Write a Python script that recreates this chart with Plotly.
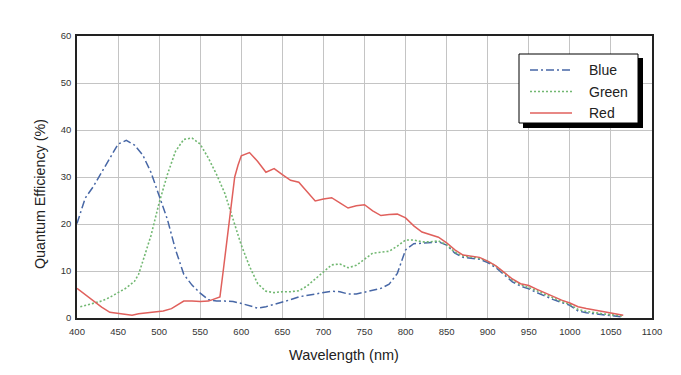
import plotly.graph_objects as go

# ---- data ----
blue_nm = [400, 410, 420, 430, 440, 450, 460, 470, 480, 490, 500, 510, 520, 530, 540, 550,
           560, 570, 580, 590, 600, 610, 620, 630, 640, 650, 660, 670, 680, 690, 700, 710,
           720, 730, 740, 750, 760, 770, 780, 790, 800, 810, 820, 830, 840, 850, 860, 870,
           880, 890, 900, 910, 920, 930, 940, 950, 960, 970, 980, 990, 1000, 1010, 1020,
           1030, 1040, 1050, 1060, 1065]
blue_qe = [20.1, 25.5, 28.0, 31.0, 34.3, 37.0, 37.8, 36.8, 34.7, 31.0, 26.0, 21.0, 14.5, 9.3,
           7.0, 5.3, 3.9, 3.6, 3.6, 3.5, 3.1, 2.6, 2.1, 2.4, 2.9, 3.3, 3.9, 4.5, 4.8, 5.1, 5.4,
           5.7, 5.6, 5.1, 5.1, 5.5, 5.9, 6.3, 7.2, 9.5, 14.5, 15.8, 15.9, 16.0, 16.2, 15.5, 13.8,
           12.9, 12.7, 12.5, 11.8, 10.7, 9.2, 7.7, 6.8, 6.2, 5.4, 4.6, 3.9, 3.3, 2.7, 1.5, 1.1,
           0.9, 0.7, 0.5, 0.3, 0.2]

green_nm = [404, 410, 420, 430, 440, 450, 460, 470, 475, 480, 490, 500, 510, 520, 530, 540,
            550, 560, 570, 580, 590, 600, 610, 620, 630, 640, 650, 660, 670, 680, 690, 700,
            710, 720, 730, 740, 750, 760, 770, 780, 790, 800, 810, 820, 830, 840, 850, 860,
            870, 880, 890, 900, 910, 920, 930, 940, 950, 960, 970, 980, 990, 1000, 1010, 1020,
            1030, 1040, 1050, 1060, 1065]
green_qe = [2.4, 2.7, 3.2, 3.6, 4.4, 5.4, 6.4, 7.8, 9.3, 12.0, 17.5, 24.5, 30.5, 35.5, 38.0,
            38.3, 37.0, 34.0, 30.5, 26.5, 21.0, 15.5, 11.0, 7.3, 5.7, 5.4, 5.6, 5.6, 5.8, 6.8,
            8.3, 9.7, 11.3, 11.5, 10.7, 11.2, 12.5, 13.8, 14.0, 14.2, 15.3, 16.6, 16.6, 16.2,
            16.2, 16.4, 15.6, 14.0, 13.2, 12.9, 12.7, 12.1, 11.0, 9.6, 8.1, 7.1, 6.5, 5.8, 5.0,
            4.2, 3.5, 2.9, 1.8, 1.4, 1.1, 0.9, 0.7, 0.5, 0.4]

red_nm = [400, 410, 420, 430, 440, 450, 460, 467, 475, 485, 495, 505, 515, 522, 530, 540,
          550, 560, 570, 574, 578, 583, 588, 592, 596, 600, 610, 620, 630, 640, 650, 660, 670,
          680, 690, 700, 710, 720, 730, 740, 750, 760, 770, 780, 790, 800, 810, 820, 830, 840,
          850, 860, 870, 880, 890, 900, 910, 920, 930, 940, 950, 960, 970, 980, 990, 1000,
          1010, 1020, 1030, 1040, 1050, 1060, 1065]
red_qe = [6.3, 4.9, 3.5, 2.3, 1.2, 1.0, 0.8, 0.6, 0.9, 1.1, 1.2, 1.5, 2.0, 2.7, 3.6, 3.6, 3.5,
          3.6, 4.2, 4.5, 10.0, 17.0, 25.0, 30.0, 32.5, 34.5, 35.2, 33.3, 31.0, 31.8, 30.5, 29.3,
          28.9, 26.8, 24.9, 25.3, 25.6, 24.5, 23.4, 23.9, 24.1, 22.8, 21.8, 22.0, 22.1, 21.3,
          19.6, 18.3, 17.7, 17.2, 16.0, 14.5, 13.4, 13.1, 12.9, 12.1, 11.1, 9.7, 8.3, 7.3, 6.9,
          6.1, 5.3, 4.5, 3.8, 3.2, 2.4, 2.0, 1.7, 1.4, 1.1, 0.8, 0.6]

series_names = ["Blue", "Green", "Red"]
x_ticks = list(range(400, 1101, 50))
y_ticks = list(range(0, 61, 10))
x_title = "Wavelength (nm)"
y_title = "Quantum Efficiency (%)"

BLUE = "#4767a6"
GREEN = "#72b872"
RED = "#e0605c"
BLUE_DASH = "8px,3px,2px,3px"
GREEN_DASH = "2px,2px"

fig = go.Figure()
fig.add_trace(go.Scatter(x=blue_nm, y=blue_qe, mode="lines", name=series_names[0],
                         line=dict(color=BLUE, width=1.5, dash=BLUE_DASH)))
fig.add_trace(go.Scatter(x=green_nm, y=green_qe, mode="lines", name=series_names[1],
                         line=dict(color=GREEN, width=1.6, dash=GREEN_DASH)))
fig.add_trace(go.Scatter(x=red_nm, y=red_qe, mode="lines", name=series_names[2],
                         line=dict(color=RED, width=1.5)))

# page body has an 8px margin; compensate so the plot lands where the reference has it
OFF = 8
W, H = 681 - OFF, 375 - OFF
ML, MR, MT, MB = 77 - OFF, 29, 36 - OFF, 57
pw, ph = W - ML - MR, H - MT - MB


def px(x):  # page pixel -> paper x
    return (x - OFF - ML) / pw


def py(y):  # page pixel -> paper y
    return (H - MB - (y - OFF)) / ph


shapes = []
# legend shadow and box
shapes.append(dict(type="rect", xref="paper", yref="paper", x0=px(523), x1=px(643),
                   y0=py(128), y1=py(58), fillcolor="black", line=dict(width=0), layer="above"))
shapes.append(dict(type="rect", xref="paper", yref="paper", x0=px(519), x1=px(638),
                   y0=py(123), y1=py(54), fillcolor="white", line=dict(color="black", width=1),
                   layer="above"))
annotations = []
legend_rows = [(70, BLUE, BLUE_DASH, 1.5), (91.5, GREEN, GREEN_DASH, 1.6), (113, RED, "solid", 1.5)]
for (yy, col, dsh, lw), nm in zip(legend_rows, series_names):
    shapes.append(dict(type="line", xref="paper", yref="paper", x0=px(530), x1=px(572),
                       y0=py(yy), y1=py(yy), line=dict(color=col, width=lw, dash=dsh),
                       layer="above"))
    annotations.append(dict(xref="paper", yref="paper", x=px(587), y=py(yy), text=nm,
                            showarrow=False, xanchor="left", yanchor="middle",
                            font=dict(size=14, color="#222222", family="Arial")))

# axis titles (placed off-centre, as in the reference)
annotations.append(dict(xref="paper", yref="paper", x=px(344), y=py(355), text=x_title,
                        showarrow=False, xanchor="center", yanchor="middle",
                        font=dict(size=14.5, color="#222222", family="Arial")))
annotations.append(dict(xref="paper", yref="paper", x=px(40), y=py(194), text=y_title,
                        textangle=-90, showarrow=False, xanchor="center", yanchor="middle",
                        font=dict(size=14.3, color="#222222", family="Arial")))

fig.update_layout(
    width=W, height=H,
    margin=dict(l=ML, r=MR, t=MT, b=MB, pad=0),
    paper_bgcolor="white", plot_bgcolor="white",
    showlegend=False,
    font=dict(family="Arial", color="#333333"),
    shapes=shapes, annotations=annotations,
)
fig.update_xaxes(range=[400, 1100], tickvals=x_ticks, showgrid=True, gridcolor="#c4c4c4",
                 gridwidth=1, showline=True, linecolor="#222222", linewidth=1.5, mirror=True,
                 ticks="", zeroline=False, tickfont=dict(size=9.5, color="#333333"),
                 ticklabelstandoff=4)
fig.update_yaxes(range=[0, 60], tickvals=y_ticks, showgrid=True, gridcolor="#c4c4c4",
                 gridwidth=1, showline=True, linecolor="#222222", linewidth=1.5, mirror=True,
                 ticks="", zeroline=False, tickfont=dict(size=9.5, color="#333333"),
                 ticklabelstandoff=2)

fig.write_html("out.html")
